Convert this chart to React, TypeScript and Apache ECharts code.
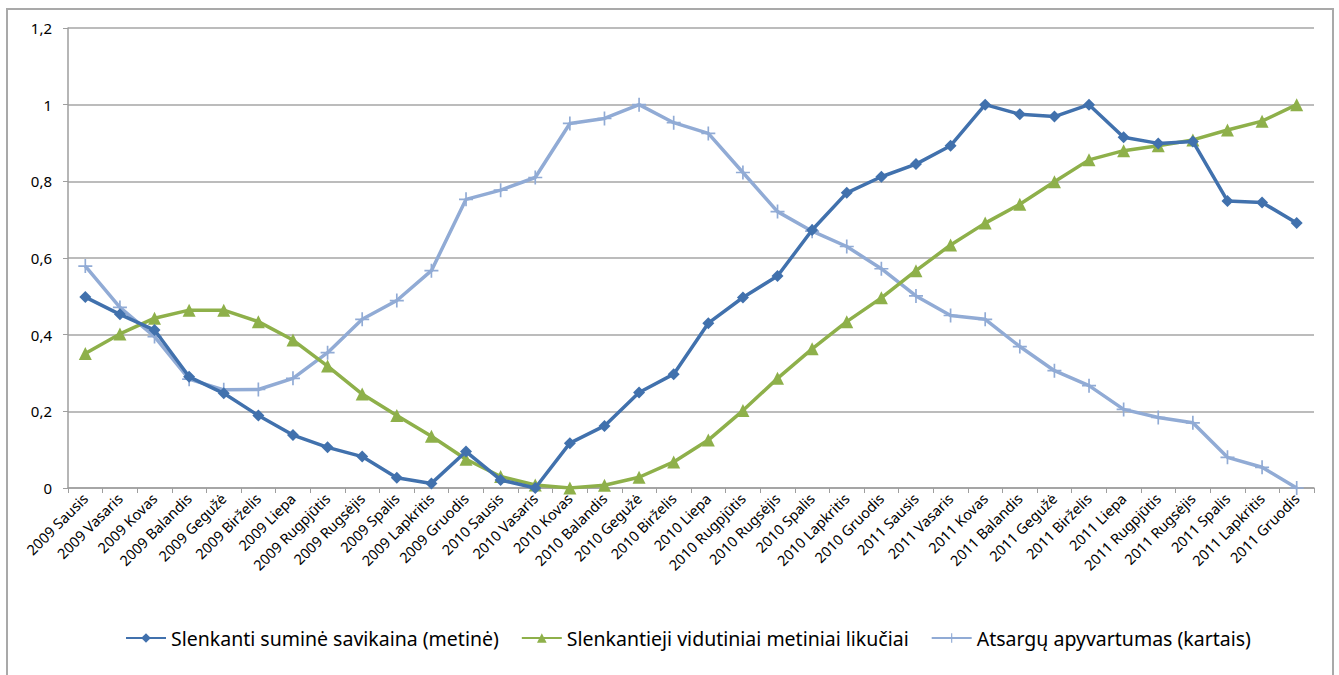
import React, { useEffect, useRef } from "react";
import * as echarts from "echarts";

const categories = [
  "2009 Sausis", "2009 Vasaris", "2009 Kovas", "2009 Balandis", "2009 Gegužė", "2009 Birželis",
  "2009 Liepa", "2009 Rugpjūtis", "2009 Rugsėjis", "2009 Spalis", "2009 Lapkritis", "2009 Gruodis",
  "2010 Sausis", "2010 Vasaris", "2010 Kovas", "2010 Balandis", "2010 Gegužė", "2010 Birželis",
  "2010 Liepa", "2010 Rugpjūtis", "2010 Rugsėjis", "2010 Spalis", "2010 Lapkritis", "2010 Gruodis",
  "2011 Sausis", "2011 Vasaris", "2011 Kovas", "2011 Balandis", "2011 Gegužė", "2011 Birželis",
  "2011 Liepa", "2011 Rugpjūtis", "2011 Rugsėjis", "2011 Spalis", "2011 Lapkritis", "2011 Gruodis",
];

const savikaina = [
  0.498, 0.453, 0.412, 0.29, 0.247, 0.189, 0.138, 0.106, 0.082, 0.027, 0.012, 0.095,
  0.021, 0.0, 0.117, 0.162, 0.249, 0.297, 0.43, 0.497, 0.553, 0.673, 0.77, 0.812,
  0.845, 0.893, 1.0, 0.975, 0.969, 1.0, 0.915, 0.899, 0.904, 0.749, 0.745, 0.691,
];

const likuciai = [
  0.351, 0.402, 0.443, 0.464, 0.464, 0.434, 0.386, 0.318, 0.245, 0.189, 0.135, 0.075,
  0.03, 0.008, 0.0, 0.007, 0.028, 0.068, 0.125, 0.202, 0.286, 0.363, 0.434, 0.496,
  0.567, 0.634, 0.691, 0.74, 0.799, 0.856, 0.88, 0.893, 0.908, 0.934, 0.957, 1.0,
];

const apyvartumas = [
  0.579, 0.471, 0.395, 0.284, 0.256, 0.257, 0.286, 0.353, 0.44, 0.489, 0.567, 0.753,
  0.777, 0.81, 0.951, 0.964, 1.0, 0.953, 0.925, 0.823, 0.721, 0.67, 0.63, 0.572,
  0.501, 0.45, 0.44, 0.369, 0.306, 0.267, 0.205, 0.184, 0.17, 0.08, 0.054, 0.0,
];

const seriesNames = [
  "Slenkanti suminė savikaina (metinė)",
  "Slenkantieji vidutiniai metiniai likučiai",
  "Atsargų apyvartumas (kartais)",
];

const PLUS = "path://M4.4,0 H5.6 V4.4 H10 V5.6 H5.6 V10 H4.4 V5.6 H0 V4.4 H4.4 Z";

export default function App() {
  const ref = useRef<HTMLDivElement>(null);
  useEffect(() => {
    if (!ref.current) return;
    const chart = echarts.init(ref.current, null, { renderer: "svg" });
    const font = "'Noto Sans', sans-serif";
    chart.setOption({
      animation: false,
      backgroundColor: "#ffffff",
      textStyle: { fontFamily: font },
      graphic: [
        {
          type: "rect",
          shape: { x: 7, y: 9, width: 1326, height: 700 },
          style: { fill: "none", stroke: "#a9a9a9", lineWidth: 2 },
          silent: true,
        },
      ],
      grid: { left: 68, right: 25, top: 28, bottom: 187, containLabel: false },
      legend: {
        bottom: 22,
        left: 120,
        itemWidth: 40,
        itemHeight: 12,
        itemGap: 22,
        textStyle: { fontSize: 19.5, color: "#000", fontFamily: font },
        data: seriesNames,
      },
      xAxis: {
        type: "category",
        data: categories,
        boundaryGap: true,
        axisLine: { lineStyle: { color: "#9e9e9e", width: 1.5 } },
        axisTick: { show: true, alignWithLabel: false, length: 5, lineStyle: { color: "#9e9e9e" } },
        axisLabel: { rotate: 45, interval: 0, fontSize: 14.5, color: "#000", margin: 8, fontFamily: font },
        splitLine: { show: false },
      },
      yAxis: {
        type: "value",
        min: 0,
        max: 1.2,
        interval: 0.2,
        axisLine: { show: true, lineStyle: { color: "#9e9e9e", width: 1.5 } },
        axisTick: { show: true, length: 5, lineStyle: { color: "#9e9e9e" } },
        axisLabel: {
          fontSize: 15,
          color: "#000",
          margin: 16,
          fontFamily: font,
          formatter: (v: number) => (Math.round(v * 10) / 10).toString().replace(".", ","),
        },
        splitLine: { lineStyle: { color: "#a6a6a6", width: 1.5 } },
      },
      series: [
        {
          name: seriesNames[0],
          type: "line",
          data: savikaina,
          symbol: "diamond",
          symbolSize: 12,
          lineStyle: { color: "#4171ad", width: 3.5 },
          itemStyle: { color: "#4171ad" },
          z: 3,
        },
        {
          name: seriesNames[1],
          type: "line",
          data: likuciai,
          symbol: "triangle",
          symbolSize: 13,
          lineStyle: { color: "#8eb04a", width: 3.5 },
          itemStyle: { color: "#8eb04a" },
          z: 2,
        },
        {
          name: seriesNames[2],
          type: "line",
          data: apyvartumas,
          symbol: PLUS,
          symbolSize: 14,
          lineStyle: { color: "#91abd5", width: 3.5 },
          itemStyle: { color: "#91abd5" },
          z: 1,
        },
      ],
    });
    return () => chart.dispose();
  }, []);
  return <div ref={ref} style={{ width: 1339, height: 675, position: "absolute", left: 0, top: 0 }} />;
}
